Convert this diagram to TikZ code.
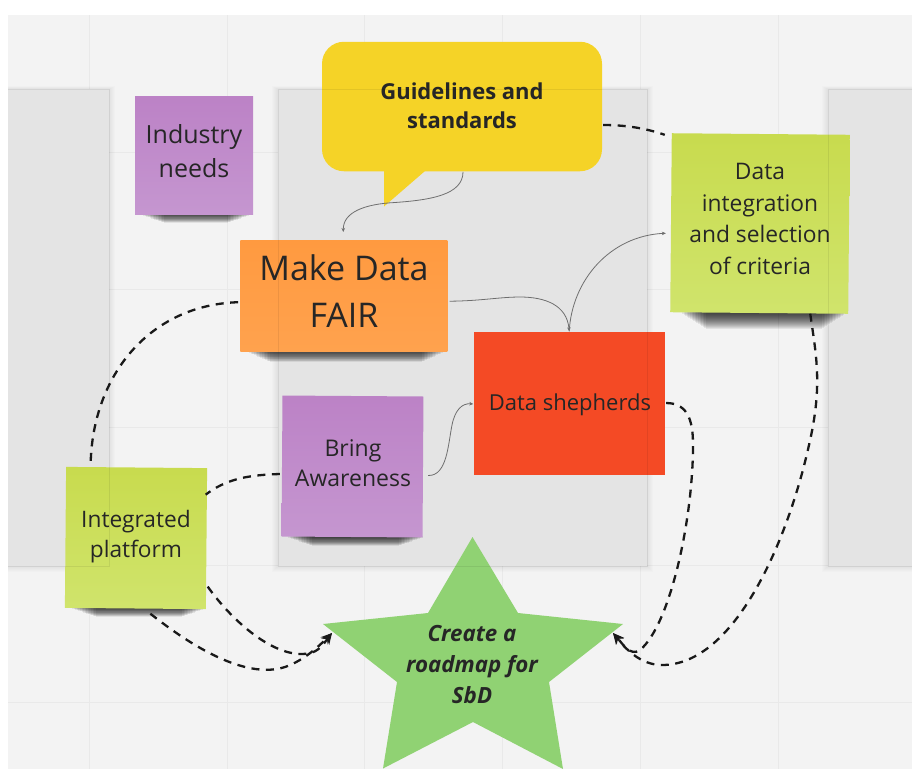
\documentclass[tikz,border=0pt]{standalone}
\usepackage{fontspec}
\setmainfont{Open Sans}
\usetikzlibrary{arrows.meta,calc}
\definecolor{canvas}{HTML}{F3F3F3}
\definecolor{gridc}{HTML}{E9E9E9}
\definecolor{panelc}{HTML}{E4E4E4}
\definecolor{inkc}{HTML}{262626}
\definecolor{wireC}{HTML}{6E6E6E}
\definecolor{purpleA}{HTML}{BC82C6}\definecolor{purpleB}{HTML}{C596D0}
\definecolor{limeA}{HTML}{C8DB4E}\definecolor{limeB}{HTML}{D0E46C}
\definecolor{orangeA}{HTML}{FF9A40}\definecolor{orangeB}{HTML}{FFA24E}
\definecolor{redc}{HTML}{F44A25}
\definecolor{yellowc}{HTML}{F5D327}
\definecolor{starg}{HTML}{90D273}
\tikzset{
  note/.style={rectangle,inner sep=0pt,minimum width=#1},
  txt/.style={align=center,text=inkc,inner sep=0pt},
  purple note/.style={top color=purpleA,bottom color=purpleB},
  lime note/.style={top color=limeA,bottom color=limeB},
  orange note/.style={top color=orangeA,bottom color=orangeB},
  wire/.style={draw=wireC,line width=.8pt,-{Stealth[length=4pt,width=3.5pt]}},
  dashline/.style={draw=black!90,line width=2.3pt,dash pattern=on 8pt off 6.5pt},
  dasharrow/.style={dashline,-{Stealth[length=11pt,width=10pt]}},
}
\newcommand{\notesh}[4]{% x1 x2 y depth
  \foreach \i in {0,...,15}{
    \fill[black,opacity=.07] ({#1+1.6*\i},#3-1) rectangle ({#2-1.6*\i},{#3+#4*(\i+1)/16});
  }}
\begin{document}
\begin{tikzpicture}[x=1pt,y=-1pt]
\useasboundingbox (0,0) rectangle (912,769);
\fill[white] (0,0) rectangle (912,769);
\fill[canvas] (8,15) rectangle (912,769);
% grid
\foreach \gx in {89,227,364,502,640,778}{\draw[gridc,line width=.9pt] (\gx,15) -- (\gx,769);}
\foreach \gy in {152,289,427,565,702}{\draw[gridc,line width=.9pt] (8,\gy) -- (912,\gy);}
% panels
\begin{scope}
\clip (8,15) rectangle (912,769);
\foreach \e in {1,...,6}{
  \fill[black,opacity=.012] (0,{89-\e*.5}) rectangle ({109+\e},{566+\e});
  \fill[black,opacity=.012] ({278-\e},{89-\e*.5}) rectangle ({647+\e},{566+\e});
  \fill[black,opacity=.012] ({828-\e},{89-\e*.5}) rectangle (920,{566+\e});
}
\fill[panelc] (0,89) rectangle (109,566);
\fill[panelc] (278,89) rectangle (647,566);
\fill[panelc] (828,89) rectangle (920,566);
\end{scope}
% shadows
\notesh{140}{252}{214}{9}
\notesh{246}{446}{351}{11}
\notesh{288}{423}{537}{9}
\notesh{72}{206}{608}{9}
\notesh{682}{846}{313}{16}
% notes
\node[note=118pt,minimum height=117.5pt,purple note] (industry) at (194,155.5) {};
\node[note=207pt,minimum height=111pt,orange note] (fair) at (343.8,295.7) {};
\node[note=190.5pt,minimum height=143pt,fill=redc] (shepherds) at (569.7,403.5) {};
\node[note=141pt,minimum height=141pt,purple note,rotate=-.4] (aware) at (352.5,466.5) {};
\node[note=141pt,minimum height=141pt,lime note,rotate=-.5] (platform) at (136,538) {};
\node[note=178pt,minimum height=179pt,lime note,rotate=-.5] (criteria) at (760,223.5) {};
% bubble
\fill[yellowc] (384,165) -- (384,206.5) -- (425,171) -- (425,165) -- cycle;
\node[rectangle,rounded corners=22pt,fill=yellowc,minimum width=280pt,minimum height=129.5pt,inner sep=0pt,
      align=center,text=black!85,font=\fontsize{22}{29.5}\selectfont\bfseries] (bubble) at (462,106.5) {\raisebox{1.5pt}{Guidelines and}\\\raisebox{1.5pt}{standards}};
% star
\fill[starg] (472.5,537) -- (518,613) -- (623,624) -- (549,682) -- (563,769) -- (473,722) -- (383,768.5) -- (397,682) -- (323,624) -- (428,613) -- cycle;
\node[txt,font=\fontsize{22.3}{31}\selectfont\bfseries\itshape] (roadmap) at (472,665) {Create a\\roadmap for\\SbD};
\coordinate (starleft) at (332,633);
\coordinate (starright) at (613,633);
% note texts
\node[txt,font=\fontsize{25}{34}\selectfont] (tindustry) at (194,151.5) {Industry\\needs};
\node[txt,font=\fontsize{34}{47}\selectfont] (tfair) at (344,291.5) {Make Data\\FAIR};
\node[txt,font=\fontsize{22}{30}\selectfont] (tshepherds) at (570,404.5) {Data shepherds};
\node[txt,font=\fontsize{23}{30.5}\selectfont] (taware) at (353,463) {Bring\\Awareness};
\node[txt,font=\fontsize{22.7}{30.5}\selectfont] (tplatform) at (136,536.5) {Integrated\\platform};
\node[txt,font=\fontsize{22.8}{31.5}\selectfont] (tcriteria) at (760,219) {Data\\integration\\and selection\\of criteria};
% thin connectors
\draw[wire] ($(bubble.south)+(1,.5)$) .. controls (463,195) and (430,200) .. (395,202.5) .. controls (365,204) and (343,212) .. ($(fair.north)+(-.5,-8)$);
\draw[wire] ($(fair.east)+(2,5.5)$) .. controls (480,301) and (500,297) .. (520,297) .. controls (545,297) and (567,305) .. ($(shepherds.north)+(-.5,-.5)$);
\draw[wire] ($(shepherds.north)+(-.5,-.5)$) .. controls (572,280) and (610,236) .. ($(criteria.west)+(-5,10.5)$);
\draw[wire] ($(aware.east)+(5,8.5)$) .. controls (447,476) and (448,445) .. (452,425) .. controls (455,410) and (462,403) .. ($(shepherds.west)+(-1,.5)$);
% dashed connectors
\draw[dashline] ($(fair.west)+(-2,6.5)$) .. controls (150,305) and (92,375) .. ($(platform.north)+(-46,-2)$);
\draw[dashline] ($(aware.west)+(-2,8)$) .. controls (245,475) and (225,480) .. ($(platform.east)+(-1,-44)$);
\draw[dasharrow] ($(platform.east)+(1,48)$) .. controls (235,625) and (280,662) .. (312,652.5) .. controls (320,650) and (325,642) .. (starleft);
\draw[dasharrow] ($(platform.south)+(15,5)$) .. controls (190,645) and (245,680) .. (285,667) .. controls (305,660) and (320,645) .. (starleft);
\draw[dashline] ($(bubble.east)+(1,18.5)$) .. controls (625,125) and (645,128) .. ($(criteria.north)+(-96,1)$);
\draw[dasharrow] ($(shepherds.east)+(1,-.5)$) .. controls (690,403) and (693,425) .. (693,445) .. controls (693,520) and (670,625) .. (640,650) .. controls (630,657) and (622,643) .. (starright);
\draw[dasharrow] ($(criteria.south)+(51,.5)$) .. controls (816,355) and (823,385) .. (809,445) .. controls (788,540) and (735,665) .. (662,665) .. controls (640,665) and (625,648) .. (starright);
% panel edges seen through the notes
\draw[black,opacity=.07,line width=.9pt] (278,89) -- (647,89) (278,89) -- (278,566) -- (647,566) -- (647,89);
\draw[black,opacity=.07,line width=.9pt] (8,89) -- (109,89) -- (109,566) -- (8,566);
\draw[black,opacity=.07,line width=.9pt] (912,89) -- (828,89) -- (828,566) -- (912,566);
\end{tikzpicture}
\end{document}
